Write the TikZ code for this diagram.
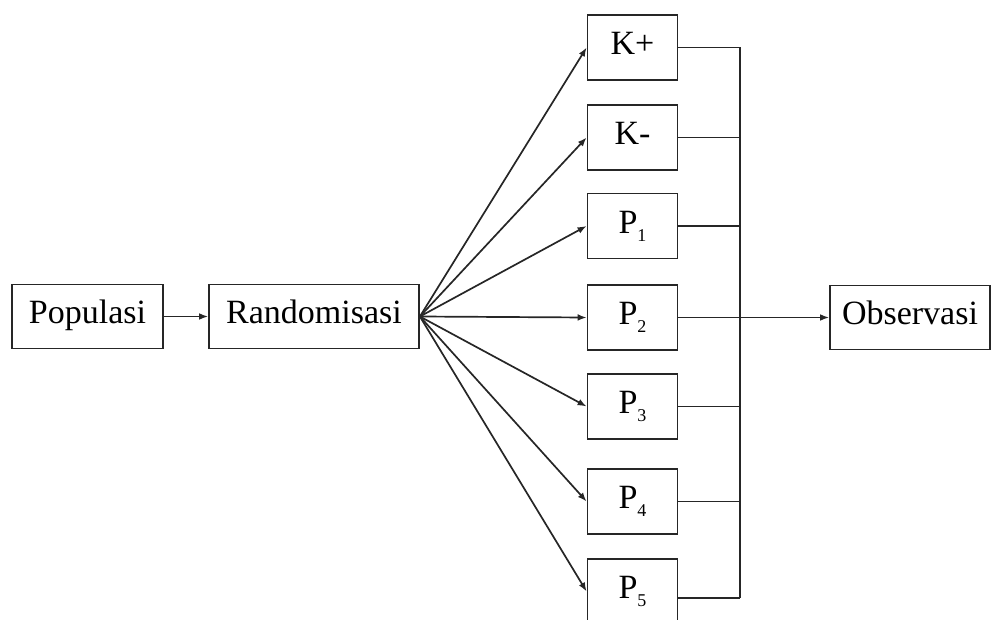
\documentclass[tikz,border=0pt]{standalone}
\usepackage{fontspec}
\setmainfont{Liberation Serif}
\usetikzlibrary{arrows.meta}
\newcommand{\grpsub}[1]{\raisebox{-4pt}{\fontsize{9}{10}\selectfont #1}}
\begin{document}
\begin{tikzpicture}[x=0.5pt,y=-0.5pt,
  box/.style={draw=black!85, line width=0.9pt, minimum height=32pt, inner sep=0pt,
    text height=11.6pt, text depth=4.4pt,
    font=\fontsize{17}{20}\selectfont},
  grp/.style={box, minimum width=45pt, minimum height=32.5pt},
  link/.style={line width=0.85pt, draw=black!85},
  arr/.style={link, -{Latex[length=4.5pt,width=3.4pt]}}]
\useasboundingbox (0,0) rectangle (1000,620);
\clip (0,0) rectangle (1000,620);

% main chain
\node[box, minimum width=75.5pt] (pop) at (87.5,316.5) {Populasi};
\node[box, minimum width=105pt] (rand) at (314,316.5) {Randomisasi};
\node[box, minimum width=80pt] (obs) at (910,317.5) {Observasi};

% treatment groups
\node[grp] (kp) at (632.5,47.5)  {K+};
\node[grp] (km) at (632.5,137.5) {K-};
\node[grp] (p1) at (632.5,226)   {P\grpsub{1}};
\node[grp] (p2) at (632.5,317.5) {P\grpsub{2}};
\node[grp] (p3) at (632.5,406.5) {P\grpsub{3}};
\node[grp] (p4) at (632.5,501.5) {P\grpsub{4}};
\node[grp] (p5) at (632.5,591.5) {P\grpsub{5}};

\draw[arr] (pop) -- (rand);
\foreach \g in {kp,km,p1,p2,p3,p4,p5}
  \draw[arr] (rand.east) -- (\g.west);

% collecting bus
\coordinate (bustop) at (740,47.5);
\coordinate (busbot) at (740,598);
\draw[link] (bustop) -- (busbot);
\foreach \g in {kp,km,p1,p3,p4}
  \draw[link] (\g.east) -- (\g.east -| bustop);
\draw[link] (p5.east |- busbot) -- (busbot);
\draw[arr] (p2.east) -- (obs.west);
\end{tikzpicture}
\end{document}
